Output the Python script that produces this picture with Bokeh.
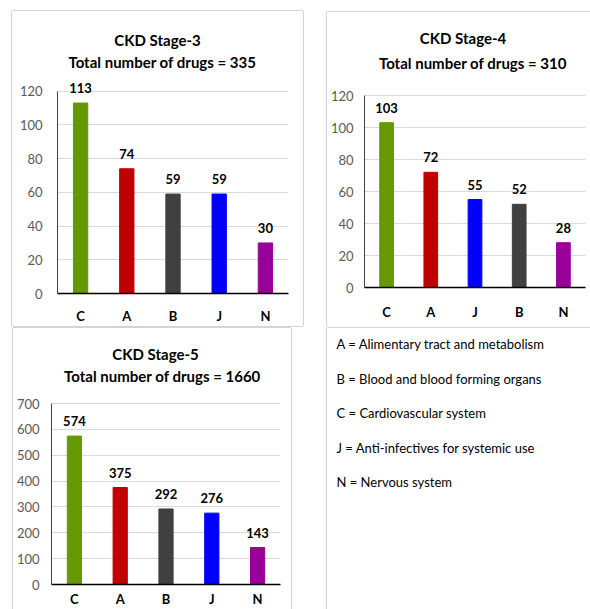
from bokeh.plotting import figure
from bokeh.models import FactorRange, Range1d, FixedTicker, ColumnDataSource
from bokeh.layouts import column, row
from bokeh.embed import file_html
from bokeh.resources import INLINE
from bokeh.core.properties import value

FONT = "Lato"

# Drug counts by ATC main group, per CKD stage
stage3_codes = ["C", "A", "B", "J", "N"]
stage3_counts = [113, 74, 59, 59, 30]
stage3_total = 335

stage4_codes = ["C", "A", "J", "B", "N"]
stage4_counts = [103, 72, 55, 52, 28]
stage4_total = 310

stage5_codes = ["C", "A", "B", "J", "N"]
stage5_counts = [574, 375, 292, 276, 143]
stage5_total = 1660

atc_colors = {"C": "#669900", "A": "#c00000", "B": "#404040", "J": "#0000ff", "N": "#990099"}

atc_legend = [
    "A = Alimentary tract and metabolism",
    "B = Blood and blood forming organs",
    "C = Cardiovascular system",
    "J = Anti-infectives for systemic use",
    "N = Nervous system",
]

EDGE = "#d4d4d4"


def shadow(*sides):
    """Thin panel edges drawn as CSS box-shadows, so they take no layout space."""
    offs = {"left": "-1px 0", "right": "1px 0", "top": "0 -1px", "bottom": "0 1px"}
    return {"box-shadow": ", ".join(f"{offs[s]} 0 0 {EDGE}" for s in sides)}


def stage_panel(stage, codes, counts, total, ymax, ystep, w, h, margin, sides,
                frame_lr, frame_bottom, top_tick_px, title_pos, tick_standoff, cat_standoff):
    left, right = frame_lr
    # frame runs from the panel's top edge down to the baseline; the top tick sits
    # at top_tick_px, so the range extends above it to leave room for the heading
    y_end = ymax * frame_bottom / (frame_bottom - top_tick_px)
    p = figure(width=w, height=h, x_range=FactorRange(*codes), y_range=Range1d(0, y_end),
               output_backend="svg", toolbar_location=None,
               min_border_left=left, min_border_right=right,
               min_border_top=0, min_border_bottom=h - frame_bottom,
               margin=margin, styles=shadow(*sides))
    p.outline_line_color = None
    p.background_fill_color = "white"
    p.border_fill_color = "white"

    src = ColumnDataSource(dict(code=codes, n=counts, txt=[str(c) for c in counts],
                                color=[atc_colors[c] for c in codes]))
    p.vbar(x="code", top="n", width=0.31, color="color", source=src)
    p.text(x="code", y="n", text="txt", source=src, y_offset=-15,
           text_align="center", text_baseline="middle",
           text_font=value(FONT), text_font_style="bold", text_font_size="13px",
           text_color="black")

    # heading, anchored at the middle category and the top tick
    mid = codes[len(codes) // 2]
    frame_w = w - left - right
    mid_px = left + frame_w / 2
    heads = ColumnDataSource(dict(
        x=[mid, mid], y=[ymax, ymax],
        text=[f"CKD Stage-{stage}", f"Total number of drugs = {total}"],
        dx=[tx - mid_px for tx, _ in title_pos],
        dy=[ty - top_tick_px for _, ty in title_pos],
    ))
    p.text(x="x", y="y", text="text", x_offset="dx", y_offset="dy", source=heads,
           text_align="center", text_baseline="middle",
           text_font=value(FONT), text_font_style="bold", text_font_size="15px",
           text_color="black")

    p.xgrid.visible = False
    p.ygrid.grid_line_color = "#d9d9d9"
    p.ygrid.grid_line_width = 1

    for ax in (p.xaxis[0], p.yaxis[0]):
        ax.major_tick_out = 0
        ax.major_tick_in = 0
        ax.minor_tick_out = 0
        ax.minor_tick_in = 0
        ax.major_tick_line_color = None
        ax.minor_tick_line_color = None
        ax.major_label_text_font = FONT
        ax.major_label_text_font_size = "13px"
        ax.axis_label_standoff = 0

    p.yaxis.ticker = FixedTicker(ticks=list(range(0, ymax + 1, ystep)))
    p.yaxis.bounds = (0, ymax)
    p.yaxis.axis_line_color = "#404040"
    p.yaxis.major_label_text_color = "#595959"
    p.yaxis.major_label_standoff = tick_standoff

    p.xaxis.axis_line_color = "black"
    p.xaxis.axis_line_width = 1.5
    p.xaxis.major_label_text_font_style = "bold"
    p.xaxis.major_label_text_color = "black"
    p.xaxis.major_label_standoff = cat_standoff
    return p


p3 = stage_panel(3, stage3_codes, stage3_counts, stage3_total, 120, 20,
                 291, 315, (11, 0, 1, 12), ("left", "top", "right", "bottom"),
                 (45, 15), 283, 80, [(145, 29), (150, 51)], 15, 14)
p4 = stage_panel(4, stage4_codes, stage4_counts, stage4_total, 120, 20,
                 263, 315, (12, 0, 0, 24), ("left", "top", "bottom"),
                 (36, 5), 275, 83, [(135, 25), (145, 50)], 11, 16)
p5 = stage_panel(5, stage5_codes, stage5_counts, stage5_total, 700, 100,
                 278, 281, (1, 0, 0, 13), ("left", "top", "right"),
                 (32, 11), 256, 75, [(139, 25), (146, 47)], 12, 6)

# ATC code key, drawn in a plain pixel-space frame
KEY_W, KEY_H = 263, 281
key = figure(width=KEY_W, height=KEY_H, x_range=Range1d(0, KEY_W), y_range=Range1d(KEY_H, 0),
             output_backend="svg", toolbar_location=None,
             x_axis_location=None, y_axis_location=None,
             min_border_left=0, min_border_right=0, min_border_top=0, min_border_bottom=0,
             margin=(1, 0, 0, 36), styles=shadow("left"))
key.grid.visible = False
key.outline_line_color = None
key.background_fill_color = "white"
key.border_fill_color = "white"
key_src = ColumnDataSource(dict(
    x=[9] * len(atc_legend),
    y=[15.5 + i * 34.5 for i in range(len(atc_legend))],
    text=atc_legend,
))
key.text(x="x", y="y", text="text", source=key_src, text_align="left", text_baseline="middle",
         text_font=value(FONT), text_font_size="13px", text_color="black")

# each chart sits in its own column so the rows keep their own frame geometry
layout = column(row(column(p3), column(p4)), row(column(p5), column(key)))

with open("out.html", "w") as f:
    f.write(file_html(layout, INLINE))
